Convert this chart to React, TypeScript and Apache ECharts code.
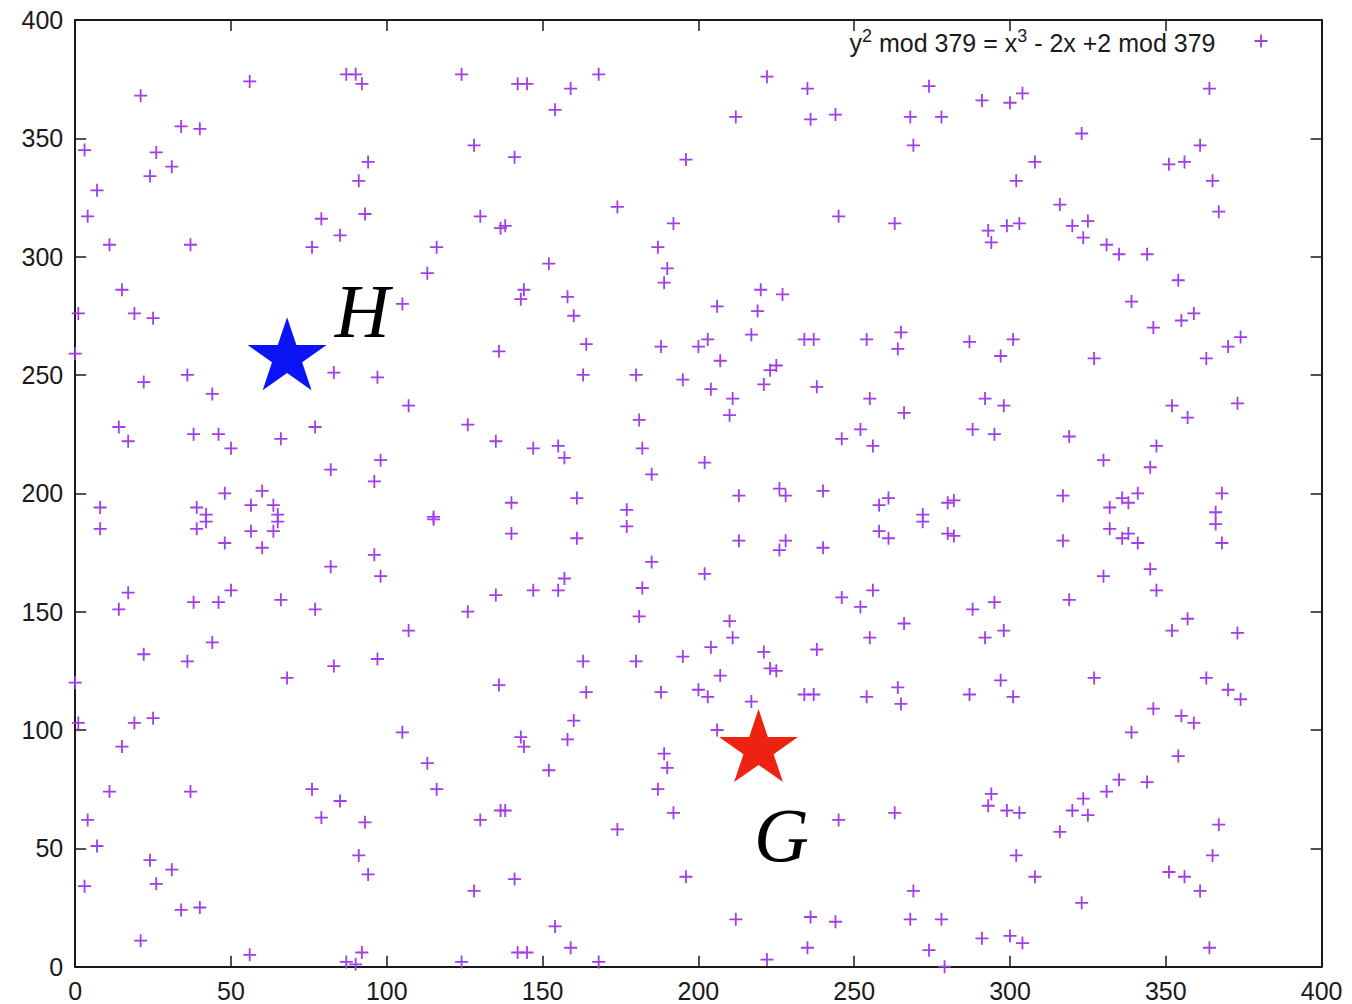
import { useEffect, useRef } from "react";
import * as echarts from "echarts";

// ---- data ----
const xMin = 0;
const xMax = 400;
const yMin = 0;
const yMax = 400;
const tickStep = 50;

const curveName = "y^2 mod 379 = x^3 - 2x +2 mod 379";

const curvePoints: [number, number][] = [
  [0, 259], [0, 120], [1, 276], [1, 103], [3, 345], [3, 34], [4, 317], [4, 62],
  [7, 328], [7, 51], [8, 194], [8, 185], [11, 305], [11, 74], [14, 228], [14, 151],
  [15, 286], [15, 93], [17, 222], [17, 158], [19, 276], [19, 103], [21, 368], [21, 11],
  [22, 247], [22, 132], [24, 334], [24, 45], [25, 274], [25, 105], [26, 344], [26, 35],
  [31, 338], [31, 41], [34, 355], [34, 24], [36, 250], [36, 129], [37, 305], [37, 74],
  [38, 225], [38, 154], [39, 194], [39, 185], [40, 354], [40, 25], [42, 191], [42, 188],
  [44, 242], [44, 137], [46, 225], [46, 154], [48, 200], [48, 179], [50, 219], [50, 159],
  [56, 374], [56, 5], [56.4, 195], [56.4, 184], [60, 201], [60, 177], [63.6, 195], [63.6, 184],
  [65, 191], [65, 188], [66, 223], [66, 155], [68, 122], [76, 304], [76, 75],
  [77, 228], [77, 151], [79, 316], [79, 63], [82, 210], [82, 169], [83, 251], [83, 127],
  [85, 309], [85, 70], [87, 377], [87, 2], [90, 377], [90, 1], [91, 332], [91, 47],
  [92, 373], [92, 6], [93, 318], [93, 61], [94, 340], [94, 39], [96, 205], [96, 174],
  [97, 249], [97, 130], [98, 214], [98, 165], [105, 280], [105, 99], [107, 237], [107, 142],
  [113, 293], [113, 86], [115, 190], [115, 189], [116, 304], [116, 75], [124, 377], [124, 2],
  [126, 229], [126, 150], [128, 347], [128, 32], [130, 317], [130, 62], [135, 222], [135, 157],
  [136, 260], [136, 119], [136.5, 312], [136.5, 66], [138, 313], [138, 66], [140, 196], [140, 183],
  [141, 342], [141, 37], [142, 373], [142, 6], [143, 282], [143, 97], [144, 286], [144, 93],
  [145, 373], [145, 6], [147, 219], [147, 159], [152, 297], [152, 83], [154, 362], [154, 17],
  [155, 220], [155, 159], [157, 215], [157, 164], [158, 283], [158, 96], [159, 371], [159, 8],
  [160, 275], [160, 104], [161, 198], [161, 181], [163, 250], [163, 129], [164, 263], [164, 116],
  [168, 377], [168, 2], [174, 321], [174, 58], [177, 193], [177, 186], [180, 250], [180, 129],
  [181, 231], [181, 148], [182, 219], [182, 160], [185, 208], [185, 171], [187, 304], [187, 75],
  [188, 262], [188, 116], [189, 289], [189, 90], [190, 295], [190, 84], [192, 314], [192, 65],
  [195, 248], [195, 131], [196, 341], [196, 38], [200, 262], [200, 117], [202, 213], [202, 166],
  [203, 265], [203, 114], [204, 244], [204, 135], [206, 279], [206, 100], [207, 256], [207, 123],
  [210, 233], [210, 146], [211, 240], [211, 139], [212, 359], [212, 20], [213, 199], [213, 180],
  [217, 267], [217, 112], [219, 277], [220, 286], [221, 246], [221, 133], [222, 376], [222, 3],
  [223, 252], [223, 126], [225, 254], [225, 125], [226, 202], [226, 176], [227, 284],
  [228, 199], [228, 180], [234, 265], [234, 115], [235, 371], [235, 8], [236, 358], [236, 21],
  [237, 265], [237, 115], [238, 245], [238, 134], [240, 201], [240, 177], [244, 360], [244, 19],
  [245, 317], [245, 62], [246, 223], [246, 156], [252, 227], [252, 152], [254, 265], [254, 114],
  [255, 240], [255, 139], [256, 220], [256, 159], [258, 195], [258, 184], [261, 198], [261, 181],
  [263, 314], [263, 65], [264, 261], [264, 118], [265, 268], [265, 111], [266, 234], [266, 145],
  [268, 359], [268, 20], [269, 347], [269, 32], [272, 191], [272, 188], [274, 372], [274, 7],
  [278, 359], [278, 20], [279, 0], [280, 196], [280, 183], [282, 197], [282, 182],
  [287, 264], [287, 115], [288, 227], [288, 151], [291, 366], [291, 12], [292, 240], [292, 139],
  [293, 311], [293, 68], [294, 306], [294, 73], [295, 225], [295, 154], [297, 258], [297, 121],
  [298, 237], [298, 142], [299, 313], [299, 66], [300, 365], [300, 13], [301, 265], [301, 114],
  [302, 332], [302, 47], [303, 314], [303, 65], [304, 369], [304, 10], [308, 340], [308, 38],
  [316, 322], [316, 57], [317, 199], [317, 180], [319, 224], [319, 155], [320, 313], [320, 66],
  [323, 352], [323, 27], [323.5, 308], [323.5, 71], [325, 315], [325, 64], [327, 257], [327, 122],
  [330, 214], [330, 165], [331, 305], [331, 74], [332, 194], [332, 185], [335, 301], [335, 79],
  [336, 198], [336, 181], [338, 196], [338, 183], [339, 281], [339, 99], [341, 200], [341, 179],
  [344, 301], [344, 78], [345, 211], [345, 168], [346, 270], [346, 109], [347, 220], [347, 159],
  [351, 339], [351, 40], [352, 237], [352, 142], [354, 290], [354, 89], [355, 273], [355, 106],
  [356, 340], [356, 38], [357, 232], [357, 147], [359, 276], [359, 103], [361, 347], [361, 32],
  [363, 257], [363, 122], [364, 371], [364, 8], [365, 332], [365, 47], [366, 192], [366, 187],
  [367, 319], [367, 60], [368, 200], [368, 179], [370, 262], [370, 117], [373, 238], [373, 141],
  [374, 266], [374, 113],
];

const pointH: [number, number] = [68, 259];
const pointG: [number, number] = [219.3, 93.4];

// ---- styling ----
const PLUS = "path://M11.2,0H14.8V11.2H26V14.8H14.8V26H11.2V14.8H0V11.2H11.2Z";
const STAR =
  "path://M0,-100L22.45,-30.9L95.1,-30.9L36.3,11.8L58.8,80.9L0,38.2L-58.8,80.9L-36.3,11.8L-95.1,-30.9L-22.45,-30.9Z";
const purple = "#a03ee8";
const ink = "#1a1a1a";
const sans = "'Liberation Sans', Arial, Helvetica, sans-serif";
const serif = "'Liberation Serif', 'Times New Roman', serif";

function axisBase(showLabel: boolean) {
  return {
    type: "value" as const,
    min: xMin,
    max: xMax,
    interval: tickStep,
    axisLine: { show: true, onZero: false, lineStyle: { color: ink, width: 2 } },
    axisTick: { show: true, inside: true, length: 11, lineStyle: { color: ink, width: 1.5 } },
    axisLabel: {
      show: showLabel,
      color: ink,
      fontSize: 25,
      fontFamily: sans,
      margin: 12,
    },
    splitLine: { show: false },
  };
}

export default function App() {
  const ref = useRef<HTMLDivElement>(null);

  useEffect(() => {
    if (!ref.current) return;
    const chart = echarts.init(ref.current, null, { renderer: "svg" });
    const starLabel = (text: string, offset: [number, number]) => ({
      show: true,
      formatter: text,
      position: "inside",
      offset,
      color: "#000",
      opacity: 1,
      fontFamily: serif,
      fontStyle: "italic",
      fontSize: 76,
    });
    chart.setOption({
      animation: false,
      backgroundColor: "#ffffff",
      grid: {
        left: 75.2,
        top: 19.9,
        width: 1246.4,
        height: 946.8,
        containLabel: false,
        outerBoundsMode: "none",
      },
      xAxis: [
        { ...axisBase(true), position: "bottom" },
        { ...axisBase(false), position: "top" },
      ],
      yAxis: [
        { ...axisBase(true), min: yMin, max: yMax, position: "left" },
        { ...axisBase(false), min: yMin, max: yMax, position: "right" },
      ],
      legend: {
        data: [{ name: curveName, icon: PLUS }],
        right: 79.5,
        top: 22,
        align: "right",
        itemWidth: 13,
        itemHeight: 13,
        selectedMode: false,
        formatter: () => "{n|y}{s|2}{n| mod 379 = x}{s|3}{n| - 2x +2 mod 379}{g| }",
        textStyle: {
          color: ink,
          fontFamily: sans,
          fontSize: 25,
          rich: {
            n: { fontSize: 25, fontFamily: sans, color: ink, lineHeight: 28, verticalAlign: "bottom" },
            s: { fontSize: 18, fontFamily: sans, color: ink, lineHeight: 28, verticalAlign: "top" },
            g: { width: 34, fontSize: 25 },
          },
        },
      },
      series: [
        {
          name: curveName,
          type: "scatter",
          data: curvePoints,
          symbol: PLUS,
          symbolSize: 13,
          itemStyle: { color: purple, opacity: 1 },
          emphasis: { disabled: true },
          z: 2,
        },
        {
          name: "H",
          type: "scatter",
          data: [pointH],
          symbol: STAR,
          symbolSize: [79, 73],
          itemStyle: { color: "#0a14f5", opacity: 1 },
          label: starLabel("H", [75, -43]),
          emphasis: { disabled: true },
          z: 3,
        },
        {
          name: "G",
          type: "scatter",
          data: [pointG],
          symbol: STAR,
          symbolSize: [79, 73],
          itemStyle: { color: "#ee2211", opacity: 1 },
          label: starLabel("G", [23, 89]),
          emphasis: { disabled: true },
          z: 3,
        },
      ],
    });
    return () => chart.dispose();
  }, []);

  return (
    <div
      ref={ref}
      style={{ position: "fixed", left: 0, top: 0, width: 1352, height: 1004, background: "#fff" }}
    />
  );
}
